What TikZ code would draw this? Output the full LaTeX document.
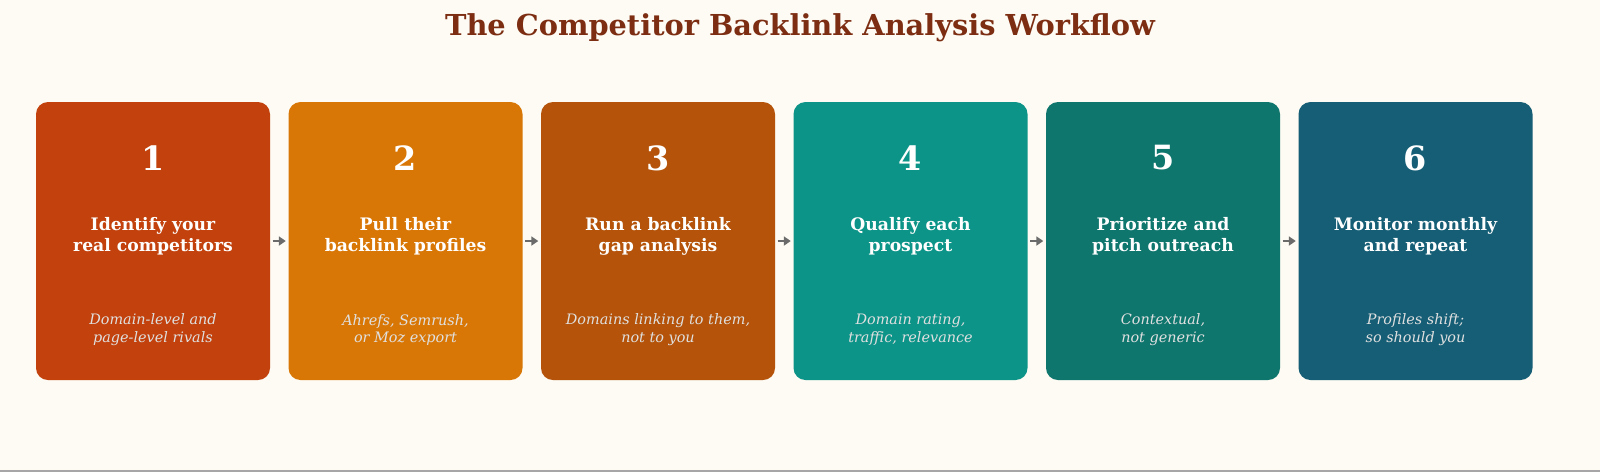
\documentclass[tikz,border=0pt]{standalone}
\usepackage{fontspec}
\setmainfont{DejaVu Serif}
\usetikzlibrary{positioning,arrows.meta,calc}
\definecolor{bgcream}{HTML}{FDFBF3}
\definecolor{titlebrown}{HTML}{7C2D12}
\definecolor{stepA}{HTML}{C2410C}
\definecolor{stepB}{HTML}{D97706}
\definecolor{stepC}{HTML}{B45309}
\definecolor{stepD}{HTML}{0D9488}
\definecolor{stepE}{HTML}{0F766E}
\definecolor{stepF}{HTML}{155E75}
\definecolor{arrowgray}{HTML}{6B6B6B}
\tikzset{
	stage/.style = {rounded corners = 0.12cm, minimum width = 2.34cm, minimum height = 2.78cm, inner sep = 0},
	num/.style = {text = white, font = \fontsize{9.5}{11}\selectfont\bfseries},
	head/.style = {text = white, align = center, font = \fontsize{4.9}{6}\selectfont\bfseries},
	note/.style = {text = white!88!black, align = center, font = \fontsize{4.1}{5.1}\selectfont\itshape},
	link/.style = {arrowgray, line width = 0.8pt, -{Triangle[length = 0.07cm, width = 0.09cm]}}
}
\begin{document}
\begin{tikzpicture}
	\fill[bgcream] (0, 0) rectangle (16, -4.72);
	\useasboundingbox (0, 0) rectangle (16, -4.72);
	\draw[gray!70, line width = 0.4pt] (0, -4.71) -- (16, -4.71);
	
	\node[text = titlebrown, font = \fontsize{8.2}{10}\selectfont\bfseries] (title) at (8, -0.28) {The Competitor Backlink Analysis Workflow};
	
	\foreach \i/\col/\hd/\nt in {
		1/stepA/{Identify your\\real competitors}/{Domain-level and\\page-level rivals},
		2/stepB/{Pull their\\backlink profiles}/{Ahrefs, Semrush,\\or Moz export},
		3/stepC/{Run a backlink\\gap analysis}/{Domains linking to them,\\not to you},
		4/stepD/{Qualify each\\prospect}/{Domain rating,\\traffic, relevance},
		5/stepE/{Prioritize and\\pitch outreach}/{Contextual,\\not generic},
		6/stepF/{Monitor monthly\\and repeat}/{Profiles shift;\\so should you}}
	{
		\node[stage, fill = \col] (box\i) at ({1.53 + (\i - 1) * 2.525}, -2.41) {};
		\node[num] (num\i) at ($(box\i.center) + (0, 0.83)$) {\i};
		\node[head] (head\i) at ($(box\i.center) + (0, 0.05)$) {\hd};
		\node[note] (note\i) at ($(box\i.center) + (0, -0.89)$) {\nt};
	}
	
	\foreach \i [evaluate = \i as \j using int(\i + 1)] in {1, ..., 5}
	\draw[link] ([xshift = 0.02cm]box\i.east) -- ([xshift = -0.02cm]box\j.west);
\end{tikzpicture}
\end{document}
